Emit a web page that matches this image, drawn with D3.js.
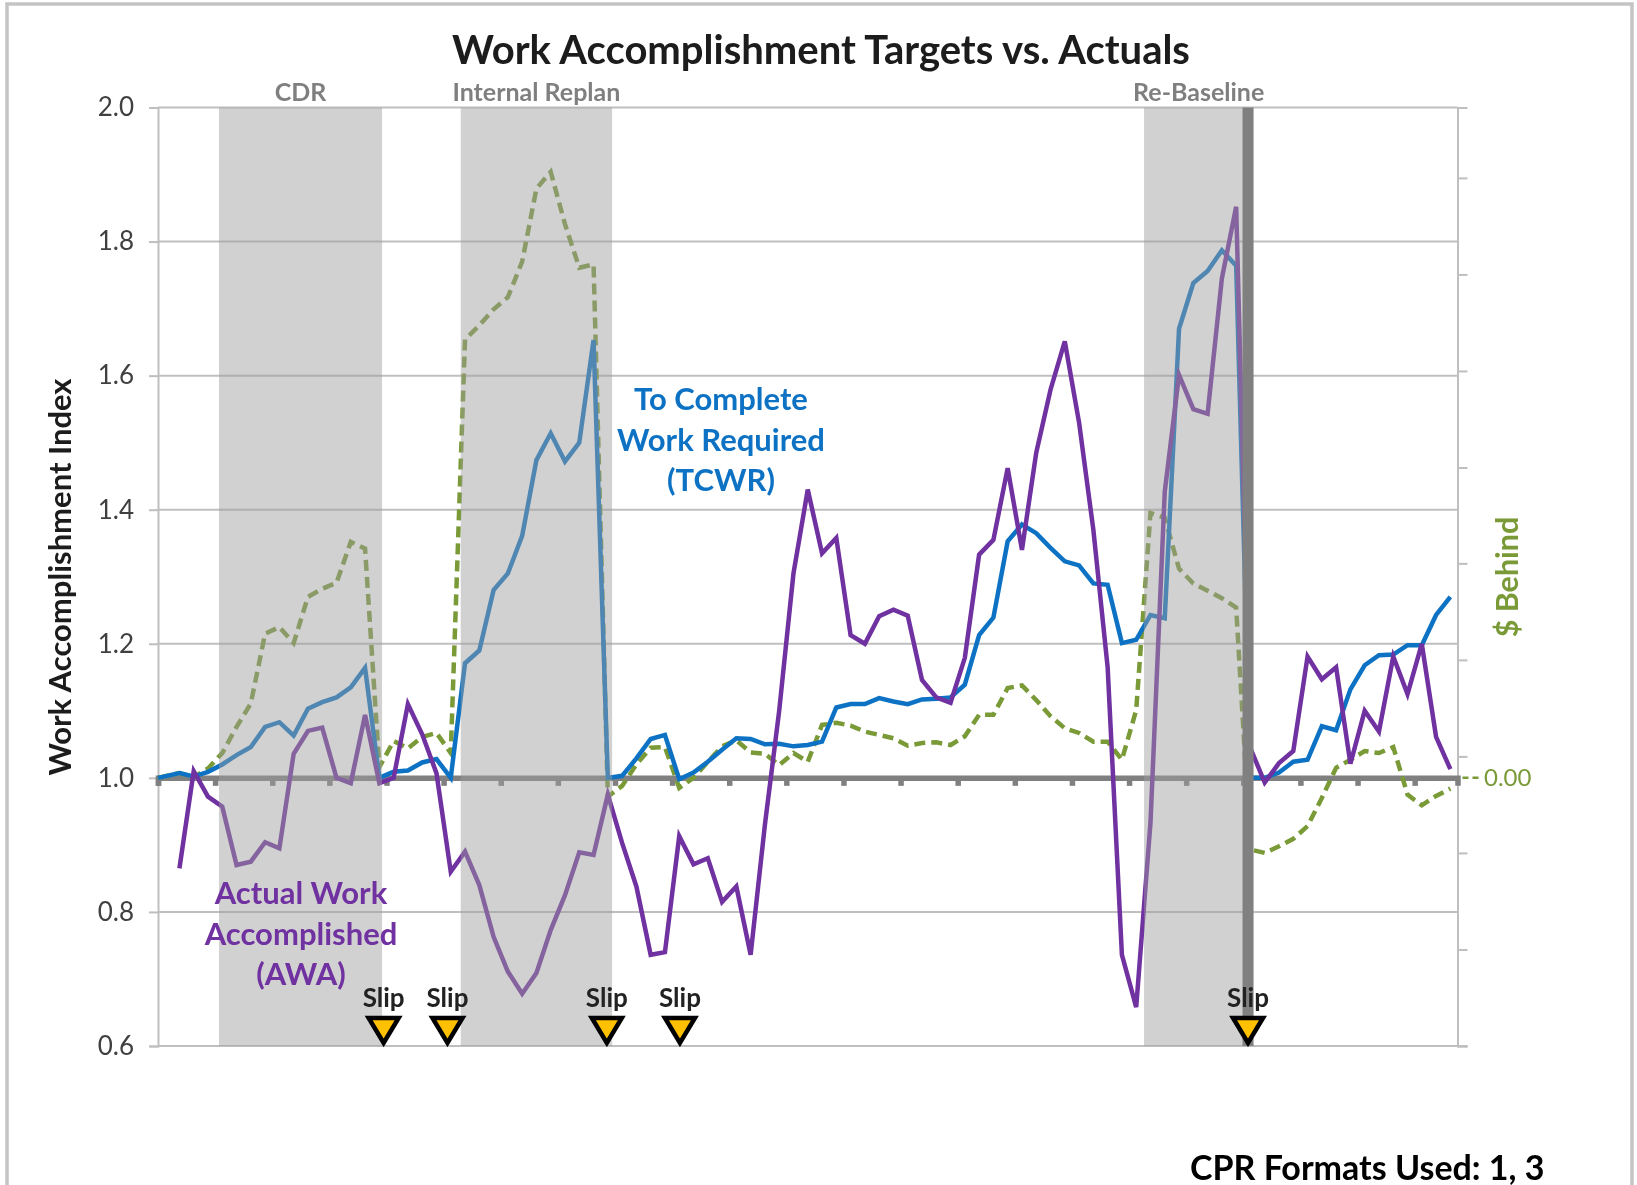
<!DOCTYPE html>
<html>
<head>
<meta charset="utf-8">
<style>
  html, body { margin: 0; background: #fff; }
  svg { display: block; }
  text { font-family: Lato, "Open Sans", sans-serif; }
</style>
</head>
<body>
<svg width="1637" height="1185"></svg>
<script src="https://cdn.jsdelivr.net/npm/d3@7"></script>
<script>
// series, one value per period (91 periods)
const tcwr = [1.0, 1.007, 1.002, 1.009, 1.02, 1.034, 1.046, 1.076, 1.083, 1.063, 1.103, 1.113, 1.12, 1.135, 1.164,
    1.0, 1.009, 1.011, 1.023, 1.028, 1.0, 1.171, 1.19, 1.28, 1.305, 1.361, 1.474, 1.514, 1.472, 1.5, 1.653,
    1.0, 1.003, 1.029, 1.058, 1.064, 0.998, 1.008, 1.024, 1.042, 1.059, 1.058, 1.05, 1.051, 1.047, 1.049, 1.054,
    1.105, 1.11, 1.11, 1.119, 1.114, 1.11, 1.117, 1.118, 1.12, 1.139, 1.213, 1.239, 1.353, 1.378, 1.365, 1.343,
    1.323, 1.317, 1.29, 1.288, 1.201, 1.206, 1.243, 1.238, 1.67, 1.738, 1.756, 1.787, 1.764,
    1.0, 1.0, 1.008, 1.024, 1.027, 1.077, 1.071, 1.132, 1.168, 1.183, 1.184, 1.198, 1.198, 1.243, 1.27];

const awa = [null, 0.865, 1.01, 0.972, 0.957, 0.87, 0.875, 0.904, 0.895, 1.036, 1.07, 1.075, 1.0, 0.992, 1.094,
    0.992, 1.0, 1.11, 1.065, 1.007, 0.86, 0.89, 0.84, 0.763, 0.711, 0.678, 0.709, 0.773, 0.825, 0.889, 0.885,
    0.975, 0.903, 0.838, 0.736, 0.74, 0.913, 0.871, 0.88, 0.815, 0.838, 0.736, 0.93, 1.1, 1.305, 1.43, 1.335,
    1.358, 1.213, 1.2, 1.241, 1.251, 1.242, 1.146, 1.12, 1.112, 1.179, 1.333, 1.355, 1.462, 1.34, 1.485, 1.579,
    1.651, 1.53, 1.37, 1.165, 0.736, 0.658, 0.933, 1.427, 1.601, 1.55, 1.543, 1.745, 1.852,
    1.044, 0.993, 1.022, 1.04, 1.181, 1.147, 1.165, 1.021, 1.1, 1.069, 1.181, 1.125, 1.2, 1.061, 1.013];

// $ behind, right axis, zero sits on the 1.0 line of the left axis
const behind = [0, 0.007, 0.001, 0.014, 0.037, 0.076, 0.111, 0.215, 0.225, 0.201, 0.27, 0.282, 0.291, 0.352, 0.342,
    0.016, 0.055, 0.044, 0.061, 0.067, 0.037, 0.654, 0.675, 0.699, 0.717, 0.77, 0.879, 0.904, 0.826, 0.761, 0.766,
    -0.028, -0.012, 0.02, 0.045, 0.046, -0.015, 0, 0.024, 0.047, 0.056, 0.038, 0.036, 0.019, 0.037, 0.024, 0.079,
    0.082, 0.078, 0.069, 0.064, 0.059, 0.048, 0.052, 0.053, 0.049, 0.062, 0.094, 0.094, 0.134, 0.138, 0.116, 0.092,
    0.074, 0.067, 0.054, 0.054, 0.027, 0.101, 0.395, 0.388, 0.312, 0.29, 0.279, 0.268, 0.254,
    -0.107, -0.112, -0.102, -0.091, -0.072, -0.03, 0.015, 0.027, 0.04, 0.037, 0.046, -0.025, -0.041, -0.027, -0.016];

const yTicks = [0.6, 0.8, 1.0, 1.2, 1.4, 1.6, 1.8, 2.0];
const behindTicks = [-0.4, -0.256, -0.112, 0.032, 0.176, 0.32, 0.463, 0.607, 0.751, 0.895];
const periodTicks = [0, 4, 8, 12, 16, 20, 24, 28, 32, 36, 40, 44, 48, 52, 56, 60, 64, 68, 72, 76, 80, 84, 88];

const bandNames = ["CDR", "Internal Replan", "Re-Baseline"];
const bandStarts = [4.27, 21.2, 69.05];
const bandEnds = [15.69, 31.8, 76.7];
const slips = [15.8, 20.27, 31.43, 36.55, 76.33];
const rebaseline = 76.33;

const svg = d3.select("svg");
const width = +svg.attr("width");
const height = +svg.attr("height");

const margin = { top: 107.5, right: 179.5, bottom: 139, left: 158 };
const innerWidth = width - margin.left - margin.right;
const innerHeight = height - margin.top - margin.bottom;

const xScale = d3.scaleLinear().domain([0, tcwr.length]).range([0, innerWidth]);
const yScale = d3.scaleLinear().domain([0.6, 2.0]).range([innerHeight, 0]);
const yRight = d3.scaleLinear().domain([-0.4, 1.0]).range([innerHeight, 0]);

const gridColor = "#bfbfbf";
const darkGrey = "#808080";
const blue = "#0b72c4";
const purple = "#7030a0";
const green = "#7a9a38";

// the source is a soft upscaled screenshot
const defs = svg.append("defs");
defs.append("filter").attr("id", "soft")
    .attr("filterUnits", "userSpaceOnUse")
    .attr("x", 0).attr("y", 0)
    .attr("width", width).attr("height", height)
    .append("feGaussianBlur").attr("stdDeviation", 0.6);

const root = svg.append("g").attr("filter", "url(#soft)");

root.append("path")
    .attr("d", `M7,${height} L7,4 L1632,4 L1632,${height}`)
    .attr("fill", "none")
    .attr("stroke", "#c4c4c4")
    .attr("stroke-width", 3.5);

const g = root.append("g")
    .attr("transform", `translate(${margin.left}, ${margin.top})`);

// left axis with gridlines
const yAxisG = g.append("g")
    .call(d3.axisLeft(yScale).tickValues(yTicks).tickFormat(d3.format(".1f")).tickSize(9).tickPadding(15));
yAxisG.select(".domain").attr("stroke", gridColor).attr("stroke-width", 2);
yAxisG.selectAll(".tick line").attr("stroke", gridColor).attr("stroke-width", 2);
yAxisG.selectAll(".tick text").attr("font-size", 26).attr("fill", "#404040");

g.append("g").selectAll("line")
    .data(yTicks)
    .enter().append("line")
    .attr("x1", 0)
    .attr("x2", innerWidth)
    .attr("y1", d => yScale(d))
    .attr("y2", d => yScale(d))
    .attr("stroke", gridColor)
    .attr("stroke-width", 2);

// right axis, only 0.00 is labelled
const rightAxisG = g.append("g")
    .attr("transform", `translate(${innerWidth}, 0)`)
    .call(d3.axisRight(yRight).tickValues(behindTicks).tickFormat("").tickSize(10));
rightAxisG.select(".domain").attr("stroke", gridColor).attr("stroke-width", 2);
rightAxisG.selectAll(".tick line").attr("stroke", gridColor).attr("stroke-width", 2);

g.append("line")
    .attr("x1", innerWidth - 9)
    .attr("x2", innerWidth + 10)
    .attr("y1", innerHeight)
    .attr("y2", innerHeight)
    .attr("stroke", gridColor)
    .attr("stroke-width", 2);

// thick zero line with square period ticks
const xAxisG = g.append("g")
    .attr("transform", `translate(0, ${yScale(1)})`)
    .call(d3.axisBottom(xScale).tickValues(periodTicks).tickFormat("").tickSize(8));
xAxisG.select(".domain").attr("stroke", darkGrey).attr("stroke-width", 5.5);
xAxisG.selectAll(".tick line").attr("stroke", darkGrey).attr("stroke-width", 5.5);
xAxisG.selectAll(".tick text").remove();

// lines, the first period starts on the axis
const line = d3.line()
    .defined(d => d !== null)
    .x((d, i) => i === 0 ? xScale(0) : xScale(i + 0.5));

g.append("path")
    .datum(behind)
    .attr("fill", "none")
    .attr("stroke", green)
    .attr("stroke-width", 4.5)
    .attr("stroke-dasharray", "11 6")
    .attr("d", line.y(d => yRight(d)));

g.append("path")
    .datum(tcwr)
    .attr("fill", "none")
    .attr("stroke", blue)
    .attr("stroke-width", 4.5)
    .attr("d", line.y(d => yScale(d)));

g.append("path")
    .datum(awa)
    .attr("fill", "none")
    .attr("stroke", purple)
    .attr("stroke-width", 4.5)
    .attr("d", line.y(d => yScale(d)));

// shaded events sit over the lines, that is why the lines look washed out there
g.selectAll(".band")
    .data(bandNames)
    .enter().append("rect")
    .attr("class", "band")
    .attr("x", (d, i) => xScale(bandStarts[i]))
    .attr("width", (d, i) => xScale(bandEnds[i]) - xScale(bandStarts[i]))
    .attr("y", 0)
    .attr("height", innerHeight)
    .attr("fill", "#9d9d9d")
    .attr("opacity", 0.47);

g.append("line")
    .attr("x1", xScale(rebaseline))
    .attr("x2", xScale(rebaseline))
    .attr("y1", 0)
    .attr("y2", innerHeight)
    .attr("stroke", darkGrey)
    .attr("stroke-width", 11);

g.selectAll(".band-label")
    .data(bandNames)
    .enter().append("text")
    .attr("class", "band-label")
    .attr("x", (d, i) => xScale((bandStarts[i] + bandEnds[i]) / 2))
    .attr("y", -7)
    .attr("text-anchor", "middle")
    .attr("font-size", 25)
    .attr("font-weight", 700)
    .attr("fill", "#7f7f7f")
    .text(d => d);

// slip markers
const slipG = g.selectAll(".slip")
    .data(slips)
    .enter().append("g")
    .attr("class", "slip")
    .attr("transform", d => `translate(${xScale(d)}, ${innerHeight})`);

slipG.append("path")
    .attr("d", "M-15,-28 L15,-28 L0,-3 Z")
    .attr("fill", "#ffc000")
    .attr("stroke", "#000")
    .attr("stroke-width", 4.5)
    .attr("stroke-linejoin", "miter");

slipG.append("text")
    .attr("y", -39)
    .attr("text-anchor", "middle")
    .attr("font-size", 26)
    .attr("font-weight", 700)
    .attr("fill", "#222")
    .text("Slip");

// direct labels
const addLabel = (lines, x, y, color) => {
    root.append("text")
        .attr("text-anchor", "middle")
        .attr("font-size", 31)
        .attr("font-weight", 700)
        .attr("fill", color)
        .selectAll("tspan")
        .data(lines)
        .enter().append("tspan")
        .attr("x", x)
        .attr("y", (d, i) => y + i * 40.5)
        .text(d => d);
};
addLabel(["To Complete", "Work Required", "(TCWR)"], 721, 410, blue);
addLabel(["Actual Work", "Accomplished", "(AWA)"], 301, 904, purple);

root.append("text")
    .attr("x", 821)
    .attr("y", 64)
    .attr("text-anchor", "middle")
    .attr("font-size", 40)
    .attr("font-weight", 700)
    .attr("fill", "#1a1a1a")
    .text("Work Accomplishment Targets vs. Actuals");

root.append("text")
    .attr("transform", "translate(71, 577) rotate(-90)")
    .attr("text-anchor", "middle")
    .attr("font-size", 31)
    .attr("font-weight", 700)
    .attr("fill", "#1a1a1a")
    .text("Work Accomplishment Index");

root.append("text")
    .attr("transform", "translate(1518, 577) rotate(-90)")
    .attr("text-anchor", "middle")
    .attr("font-size", 30.5)
    .attr("font-weight", 700)
    .attr("fill", green)
    .text("$ Behind");

// 0.00 with its leader
root.append("line")
    .attr("x1", margin.left + innerWidth + 5)
    .attr("x2", margin.left + innerWidth + 22)
    .attr("y1", margin.top + yScale(1))
    .attr("y2", margin.top + yScale(1))
    .attr("stroke", green)
    .attr("stroke-width", 2.5)
    .attr("stroke-dasharray", "6 4");

root.append("text")
    .attr("x", 1484)
    .attr("y", margin.top + yScale(1) + 8)
    .attr("font-size", 24)
    .attr("fill", green)
    .text("0.00");

root.append("text")
    .attr("x", 1190)
    .attr("y", 1180)
    .attr("font-size", 34)
    .attr("font-weight", 700)
    .attr("fill", "#000")
    .text("CPR Formats Used: 1, 3");
</script>
</body>
</html>
